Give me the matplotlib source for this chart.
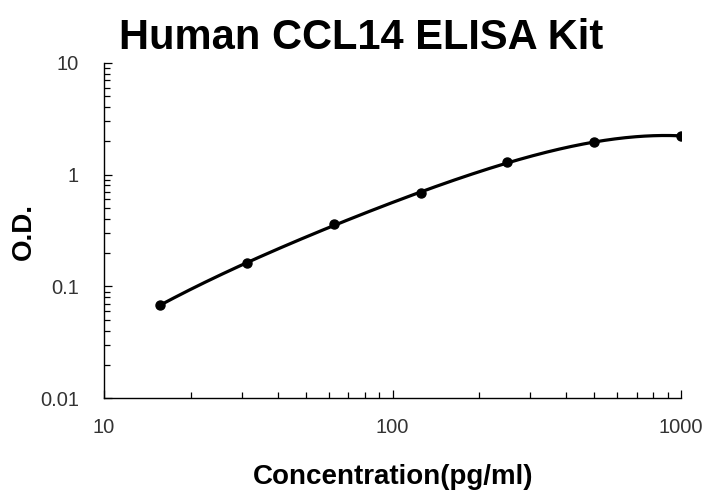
import numpy as np
import matplotlib
matplotlib.use("Agg")
import matplotlib.pyplot as plt
from matplotlib.ticker import FixedLocator, LogLocator, NullFormatter

conc = [15.6, 31.25, 62.5, 125, 250, 500, 1000]
od = [0.068, 0.161, 0.36, 0.68, 1.29, 1.95, 2.22]
x_ticks = [10, 100, 1000]
x_tick_labels = ["10", "100", "1000"]
y_ticks = [0.01, 0.1, 1, 10]
y_tick_labels = ["0.01", "0.1", "1", "10"]

plt.rcParams['font.family'] = ['Liberation Sans', 'DejaVu Sans']

fig = plt.figure(figsize=(7.03, 4.90), dpi=100)
ax = fig.add_axes([0.148, 0.187, 0.821, 0.685])

lx = np.log10(conc)
ly = np.log10(od)
coef = np.polyfit(lx, ly, 4)
xs = np.linspace(lx[0], lx[-1], 300)
ax.plot(10**xs, 10**np.polyval(coef, xs), color='black', lw=2.3, zorder=2)
ax.plot(conc, od, 'o', color='black', ms=6.5, zorder=3)

ax.set_xscale('log')
ax.set_yscale('log')
ax.set_xlim(10, 1000)
ax.set_ylim(0.01, 10)
ax.xaxis.set_major_locator(FixedLocator(x_ticks))
ax.yaxis.set_major_locator(FixedLocator(y_ticks))
ax.set_xticklabels(x_tick_labels)
ax.set_yticklabels(y_tick_labels)
ax.xaxis.set_minor_locator(LogLocator(base=10, subs=np.arange(2, 10)))
ax.yaxis.set_minor_locator(LogLocator(base=10, subs=np.arange(2, 10)))
ax.xaxis.set_minor_formatter(NullFormatter())
ax.yaxis.set_minor_formatter(NullFormatter())

for s in ['top', 'right']:
    ax.spines[s].set_visible(False)
for s in ['left', 'bottom']:
    ax.spines[s].set_linewidth(1.0)

ax.tick_params(axis='both', which='major', direction='in', length=6, width=0.9,
               labelsize=14.5, labelcolor='#333333')
ax.tick_params(axis='both', which='minor', direction='in', length=4, width=0.9)
ax.tick_params(axis='x', which='major', pad=14)
ax.tick_params(axis='y', which='major', pad=18)

ax.set_xlabel('Concentration(pg/ml)', fontsize=20, fontweight='bold')
ax.xaxis.set_label_coords(0.5, -0.197)
ax.set_ylabel('O.D.', fontsize=20, fontweight='bold')
ax.yaxis.set_label_coords(-0.116, 0.498)
fig.text(0.514, 0.9, 'Human CCL14 ELISA Kit', fontsize=30, fontweight='bold',
         ha='center', va='baseline')

fig.savefig('out.png', dpi=100)
